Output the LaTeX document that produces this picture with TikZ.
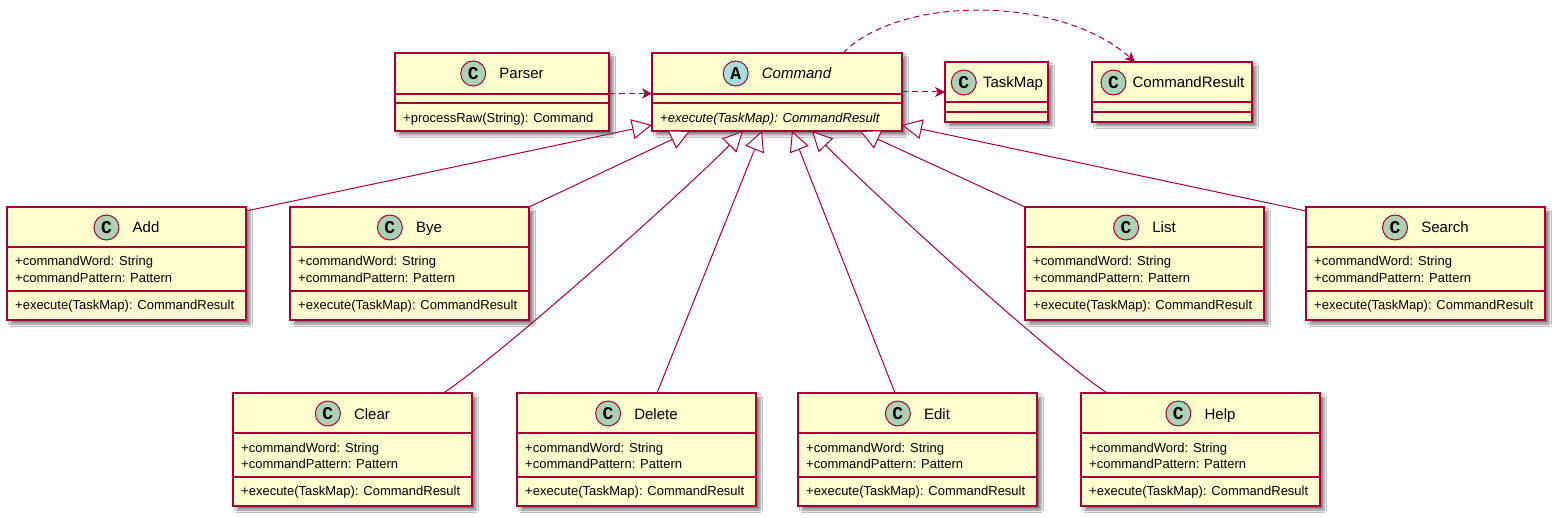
\documentclass[tikz,border=0pt]{standalone}
\usepackage{fontspec}
\setmainfont{Liberation Sans}
\newfontfamily\circfont{Liberation Mono}
\usetikzlibrary{arrows.meta,calc,shadows.blur}
\definecolor{umlfill}{HTML}{FEFECE}
\definecolor{umlborder}{HTML}{A80036}
\definecolor{cgreen}{HTML}{ADD1B2}
\definecolor{ablue}{HTML}{A9DCDF}
\tikzset{
 clsbox/.style={rectangle, draw=umlborder, fill=umlfill, line width=1.5pt, inner sep=0pt, outer sep=0pt, anchor=north west,
   blur shadow={shadow xshift=4pt, shadow yshift=-4pt, shadow blur radius=2.5pt, shadow opacity=50}},
 sepline/.style={draw=umlborder, line width=1.5pt},
 titletext/.style={inner sep=0pt, anchor=base, font=\fontsize{15}{18}\selectfont},
 membtext/.style={inner sep=0pt, anchor=base west, font=\fontsize{13}{16}\selectfont},
 letterc/.style={circle, draw=umlborder, line width=1pt, minimum size=25pt, inner sep=0pt, font=\circfont\bfseries\fontsize{18}{18}\selectfont},
 gen/.style={draw=umlborder, line width=1pt, -{Triangle[length=20pt,width=20pt,fill=white]}},
 dep/.style={draw=umlborder, line width=1pt, dash pattern=on 6pt off 4pt, -{Stealth[length=10pt,width=10pt,inset=3pt]}},
}
\newcommand\clsbox[5]{\node[clsbox, minimum width=#4pt, minimum height=#5pt] (#1) at (#2,#3) {};}
\newcommand\clstitle[6]{%
  \node[titletext] (#1-t) at ($(#1.north)+(#5,26)$) {#4};
  \coordinate (#1-cy) at ($(#1.north)+(0,20.5)$);
  \node[letterc, fill=#2] (#1-c) at ($(#1-t.west |- #1-cy)+(-#6,0)$) {#3};}
\newcommand\compline[2]{\draw[sepline] ($(#1.north west)+(0,#2)$) -- ($(#1.north east)+(0,#2)$);}
\newcommand\membtxt[4]{\node[membtext] (#1-#2) at ($(#1.north west)+(8,#3)$) {#4};}
\newcommand\cmdcls[4]{%
  \clsbox{#1}{#2}{#3}{239}{113}
  \clstitle{#1}{cgreen}{C}{#4}{19.5}{26}
  \compline{#1}{40}
  \compline{#1}{84}
  \membtxt{#1}{a1}{59}{+commandWord: String}
  \membtxt{#1}{a2}{75.5}{+commandPattern: Pattern}
  \membtxt{#1}{m}{102.5}{+execute(TaskMap): CommandResult}}
\begin{document}
\begin{tikzpicture}[x=1pt,y=-1pt]
\fill[white] (0,0) rectangle (1558,518);
\useasboundingbox (0,0) rectangle (1558,518);

% top row
\clsbox{parser}{395}{53}{214}{78}
\clstitle{parser}{cgreen}{C}{Parser}{19.5}{26}
\compline{parser}{41}
\compline{parser}{50}
\membtxt{parser}{m}{69.5}{+processRaw(String): Command}

\clsbox{command}{652}{53}{250}{78}
\clstitle{command}{ablue}{A}{\itshape Command}{19.5}{26}
\compline{command}{41}
\compline{command}{50}
\membtxt{command}{m}{69.5}{\itshape +execute(TaskMap): CommandResult}

\clsbox{taskmap}{945}{62}{103}{60}
\clstitle{taskmap}{cgreen}{C}{TaskMap}{16.5}{19}
\compline{taskmap}{40}
\compline{taskmap}{50}

\clsbox{cresult}{1092}{62}{160}{60}
\clstitle{cresult}{cgreen}{C}{CommandResult}{16.5}{19}
\compline{cresult}{40}
\compline{cresult}{50}

% command classes
\cmdcls{add}{7}{207}{Add}
\cmdcls{bye}{290}{207}{Bye}
\cmdcls{list}{1025}{207}{List}
\cmdcls{search}{1306}{207}{Search}
\cmdcls{clear}{233}{393}{Clear}
\cmdcls{delete}{517}{393}{Delete}
\cmdcls{edit}{798}{393}{Edit}
\cmdcls{help}{1081}{393}{Help}

% generalizations
\draw[gen] ([yshift=-4pt]add.north east) -- ([yshift=6pt]command.south west);
\draw[gen] (bye.north east) -- ([xshift=38pt]command.south west);
\draw[gen] ([xshift=91pt]clear.north) .. controls +(60,-40) and +(-50,52) .. ([xshift=91pt]command.south west);
\draw[gen] ([xshift=20.5pt]delete.north) -- ([xshift=110pt]command.south west);
\draw[gen] ([xshift=-22.5pt]edit.north) -- ([xshift=140pt]command.south west);
\draw[gen] ([xshift=-93.5pt]help.north) .. controls +(-60,-40) and +(50,52) .. ([xshift=160pt]command.south west);
\draw[gen] (list.north west) -- ([xshift=208pt]command.south west);
\draw[gen] ([yshift=-4pt]search.north west) -- ([yshift=6pt]command.south east);

% dependencies
\draw[dep] ([yshift=-1.5pt]parser.east) -- ([yshift=-1.5pt]command.west);
\draw[dep] (command.east) -- (taskmap.west);
\draw[dep] ([xshift=66pt]command.north) .. controls (900,-5) and (1060,-5) .. ([xshift=-37pt]cresult.north);
\end{tikzpicture}
\end{document}
